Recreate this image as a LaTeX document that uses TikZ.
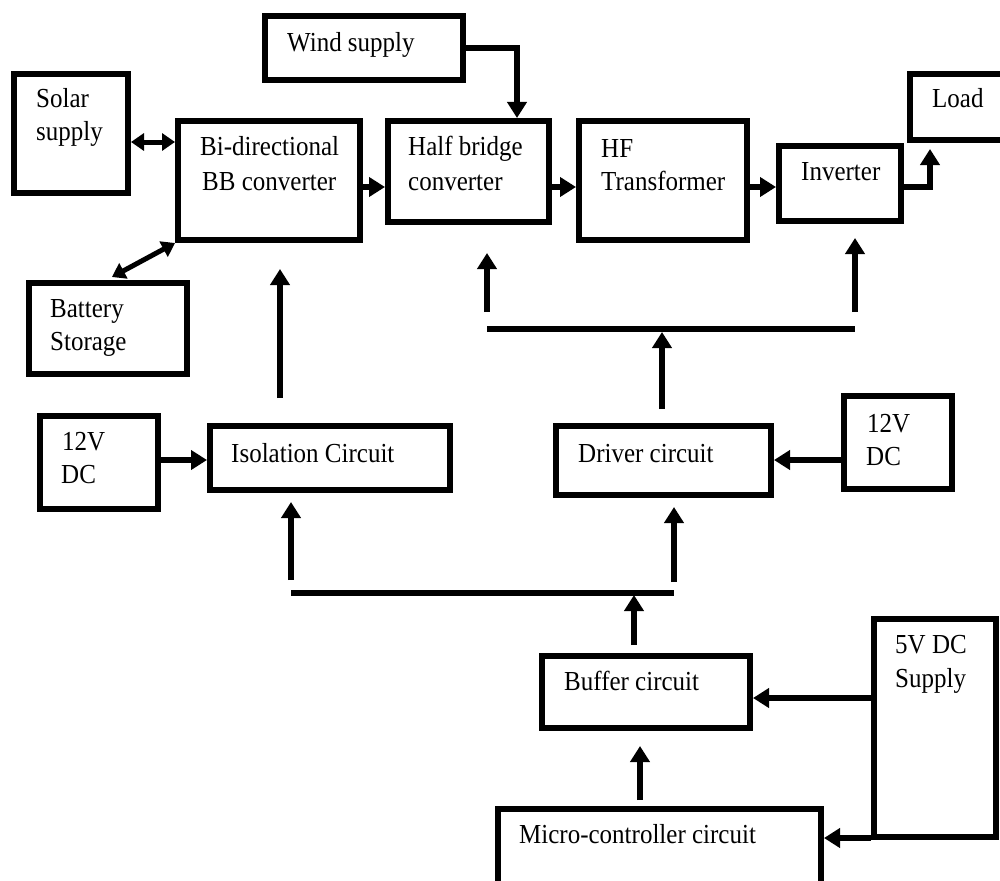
\documentclass[tikz,border=0pt]{standalone}
\usepackage{fontspec}
\usepackage{graphicx}
\setmainfont{Liberation Serif}
\usetikzlibrary{arrows.meta,calc}
\newcommand\stx[1]{\scalebox{1}[1.1]{#1}}
\begin{document}
\begin{tikzpicture}[x=1pt,y=-1pt,
  box/.style={draw, line width=6pt, rectangle, inner sep=0pt},
  txt/.style={anchor=base west, inner sep=0pt, font=\fontsize{25}{30}\selectfont},
  arr/.style={line width=6pt, -{Triangle[length=16pt,width=19pt]}},
  darr/.style={line width=5pt, {Triangle[length=13pt,width=17pt]}-{Triangle[length=13pt,width=17pt]}},
  bus/.style={line width=6pt}]
\useasboundingbox (0,0) rectangle (1000,880);
% boxes
\node[box, minimum width=198pt, minimum height=64pt] (wind) at (364,48) {};
\node[box, minimum width=114pt, minimum height=119pt] (solar) at (71,133.5) {};
\node[box, minimum width=182pt, minimum height=119pt] (bb) at (269,180.5) {};
\node[box, minimum width=161pt, minimum height=101pt] (hb) at (468.5,171.5) {};
\node[box, minimum width=168pt, minimum height=119pt] (hf) at (663,180.5) {};
\node[box, minimum width=122pt, minimum height=75pt] (inv) at (840,183.5) {};
\node[box, minimum width=97pt, minimum height=66pt] (load) at (958.5,107) {};
\node[box, minimum width=158pt, minimum height=91pt] (bat) at (108,328.5) {};
\node[box, minimum width=118pt, minimum height=93pt] (dcl) at (99,462.5) {};
\node[box, minimum width=240pt, minimum height=64pt] (iso) at (330,458) {};
\node[box, minimum width=215pt, minimum height=69pt] (drv) at (663.5,460.5) {};
\node[box, minimum width=108pt, minimum height=93pt] (dcr) at (898,442.5) {};
\node[box, minimum width=208pt, minimum height=72pt] (buf) at (646,692) {};
\node[box, minimum width=122pt, minimum height=218pt] (v5) at (935,728) {};
\node[box, minimum width=323pt, minimum height=78pt] (mc) at (659.5,848) {};
% texts
\node[txt] (t1) at (287,52) {\stx{Wind supply}};
\node[txt] (t2) at (36,108) {\stx{Solar}};
\node[txt] (t3) at (36,140) {\stx{supply}};
\node[txt] (t4) at (200,155) {\stx{Bi-directional}};
\node[txt] (t5) at (202,190) {\stx{BB converter}};
\node[txt] (t6) at (408,155) {\stx{Half bridge}};
\node[txt] (t7) at (408,190) {\stx{converter}};
\node[txt] (t8) at (601,157) {\stx{HF}};
\node[txt] (t9) at (601,190) {\stx{Transformer}};
\node[txt] (t10) at (801,180) {\stx{Inverter}};
\node[txt] (t11) at (932,108) {\stx{Load}};
\node[txt] (t12) at (50,317) {\stx{Battery}};
\node[txt] (t13) at (50,350) {\stx{Storage}};
\node[txt] (t14) at (62,450) {\stx{12V}};
\node[txt] (t15) at (61,483) {\stx{DC}};
\node[txt] (t16) at (231,462) {\stx{Isolation Circuit}};
\node[txt] (t17) at (578,462) {\stx{Driver circuit}};
\node[txt] (t18) at (867,432) {\stx{12V}};
\node[txt] (t19) at (866,465) {\stx{DC}};
\node[txt] (t20) at (564,690) {\stx{Buffer circuit}};
\node[txt] (t21) at (895,653) {\stx{5V DC}};
\node[txt] (t22) at (895,687) {\stx{Supply}};
\node[txt] (t23) at (519,843) {\stx{Micro-controller circuit}};
% free coordinates
\coordinate (bbS) at (280,398);  \coordinate (bbE) at (280,269);
\coordinate (hbS) at (487,312);  \coordinate (hbE) at (487,253);
\coordinate (invS) at (855,312); \coordinate (invE) at (855,238);
\coordinate (ub1) at (487,329);  \coordinate (ub2) at (855,329);
\coordinate (drvS) at (662,409); \coordinate (drvE) at (662,332);
\coordinate (isoS) at (291,580); \coordinate (isoE) at (291,502);
\coordinate (drS) at (674,582);  \coordinate (drE) at (674,507);
\coordinate (lb1) at (291,593);  \coordinate (lb2) at (674,593);
\coordinate (bufS) at (634,645); \coordinate (bufE) at (634,595);
% connectors
\draw[arr] (wind.east) -| ($(hb.north west)+(132,0)$);
\draw[darr] ($(solar.east)+(0,8.5)$) -- ($(bb.west)+(0,-38.5)$);
\draw[darr] (bb.south west) -- ($(bat.north)+(4,-3)$);
\draw[arr] ($(bb.east)+(0,6.5)$) -- ($(hb.west)+(0,15.5)$);
\draw[arr] ($(hb.east)+(0,15.5)$) -- ($(hf.west)+(0,6.5)$);
\draw[arr] ($(hf.east)+(0,6.5)$) -- ($(inv.west)+(0,3.5)$);
\draw[arr] ($(inv.east)+(0,3.5)$) -| ($(load.south west)+(23,6)$);
\draw[arr] (bbS) -- (bbE);
\draw[arr] (hbS) -- (hbE);
\draw[arr] (invS) -- (invE);
\draw[bus] (ub1) -- (ub2);
\draw[arr] (drvS) -- (drvE);
\draw[arr] ($(dcl.east)+(0,-2.5)$) -- ($(iso.west)+(0,2)$);
\draw[arr] ($(dcr.west)+(0,17.5)$) -- ($(drv.east)+(0,-0.5)$);
\draw[arr] (isoS) -- (isoE);
\draw[arr] (drS) -- (drE);
\draw[bus] (lb1) -- (lb2);
\draw[arr] (bufS) -- (bufE);
\draw[arr] ($(mc.north)+(-19.5,-6)$) -- ($(buf.south)+(-6,15)$);
\draw[arr] ($(v5.west)+(0,-30)$) -- ($(buf.east)+(0,6)$);
\draw[arr] ($(v5.south west)+(0,-2)$) coordinate (q) -- (q -| mc.east);
\end{tikzpicture}
\end{document}
